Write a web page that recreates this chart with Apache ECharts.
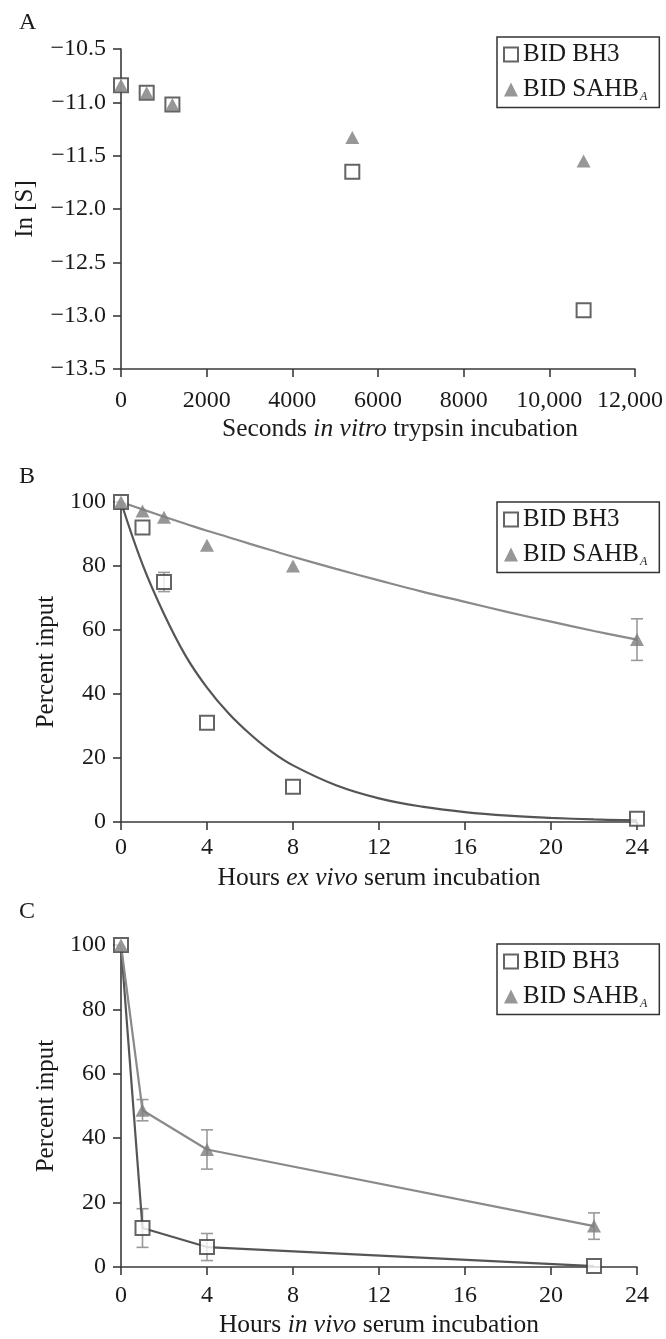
<!DOCTYPE html>
<html>
<head>
<meta charset="utf-8">
<script src="https://cdn.jsdelivr.net/npm/echarts@6/dist/echarts.min.js"></script>
<style>
html,body{margin:0;padding:0;background:#fff;}
#c{width:666px;height:1339px;}
</style>
</head>
<body>
<div id="c"></div>
<script>
// ---- Panel A data ----
const aTime = [0, 600, 1200, 5400, 10800];
const aBh3 = [-10.84, -10.91, -11.02, -11.65, -12.95];
const aSahb = [-10.84, -10.91, -11.02, -11.33, -11.55];
const aXTicks = ['0', '2000', '4000', '6000', '8000', '10,000', '12,000'];

// ---- Panel B data ----
const bTime = [0, 1, 2, 4, 8, 24];
const bBh3 = [100, 92, 75, 31, 11, 1];
const bBh3Err = [0, 0, 3, 0, 0, 0];
const bSahb = [100, 97.2, 95.2, 86.5, 80, 57];
const bSahbErr = [0, 0, 0, 0, 0, 6.5];
const bFitTime = [0, 1, 2, 3, 4, 5, 6, 7, 8, 10, 12, 14, 16, 18, 20, 22, 24];
const bBh3Fit = [100, 80.5, 65, 52, 42, 34, 27.5, 22, 17.7, 11.5, 7.4, 4.8, 3.1, 2.0, 1.3, 0.8, 0.5];
const bSahbFit = [100, 97.7, 95.4, 93.2, 91, 89, 86.9, 84.9, 82.9, 79.1, 75.5, 72, 68.8, 65.6, 62.6, 59.7, 57];

// ---- Panel C data ----
const cTime = [0, 1, 4, 22];
const cBh3 = [100, 12.1, 6.2, 0.3];
const cBh3Err = [0, 6, 4.2, 0];
const cSahb = [100, 48.7, 36.5, 12.7];
const cSahbErr = [0, 3.3, 6.1, 4.1];

const seriesNames = ['BID BH3', 'BID SAHB'];
const FONT = '"Liberation Serif", "Times New Roman", serif';
const AX = '#3a3a3a';
const SQ = '#3d3d3d';
const TRI = '#7d7d7d';
const ERR = '#9a9a9a';
const TXT = '#1a1a1a';

function pairs(xs, ys) { return xs.map((x, i) => [x, ys[i]]); }
function errData(xs, ys, es) {
  const out = [];
  xs.forEach((x, i) => { if (es[i] > 0) out.push([x, ys[i] - es[i], ys[i] + es[i]]); });
  return out;
}
function errSeries(idx, xs, ys, es) {
  return {
    type: 'custom', xAxisIndex: idx, yAxisIndex: idx, z: 1, silent: true,
    encode: { x: 0, y: [1, 2] },
    data: errData(xs, ys, es),
    renderItem: function (params, api) {
      const x = api.value(0);
      const p1 = api.coord([x, api.value(1)]);
      const p2 = api.coord([x, api.value(2)]);
      const w = 6;
      const st = { stroke: ERR, lineWidth: 1.6 };
      return {
        type: 'group', children: [
          { type: 'line', shape: { x1: p1[0], y1: p1[1], x2: p2[0], y2: p2[1] }, style: st },
          { type: 'line', shape: { x1: p1[0] - w, y1: p1[1], x2: p1[0] + w, y2: p1[1] }, style: st },
          { type: 'line', shape: { x1: p2[0] - w, y1: p2[1], x2: p2[0] + w, y2: p2[1] }, style: st }
        ]
      };
    }
  };
}
function sqSeries(idx, xs, ys) {
  return {
    name: seriesNames[0], type: 'scatter', xAxisIndex: idx, yAxisIndex: idx, z: 3,
    symbol: 'rect', symbolSize: 14,
    itemStyle: { color: '#fff', borderColor: SQ, borderWidth: 2 },
    data: pairs(xs, ys)
  };
}
function triSeries(idx, xs, ys) {
  return {
    name: seriesNames[1], type: 'scatter', xAxisIndex: idx, yAxisIndex: idx, z: 4,
    symbol: 'triangle', symbolSize: [14, 13],
    itemStyle: { color: TRI, borderWidth: 0 },
    data: pairs(xs, ys)
  };
}
function lineSeries(idx, xs, ys, color, smooth) {
  return {
    type: 'line', xAxisIndex: idx, yAxisIndex: idx, z: 2, silent: true,
    showSymbol: false, symbol: 'none', smooth: smooth,
    lineStyle: { color: color, width: 2.2 },
    data: pairs(xs, ys)
  };
}
function legend(top) {
  return {
    left: 497, top: top, orient: 'vertical',
    itemWidth: 14, itemHeight: 14, itemGap: 10,
    padding: [5, 12, 5, 6],
    borderColor: '#333', borderWidth: 1.5,
    data: seriesNames,
    formatter: n => n === 'BID SAHB' ? '{a|BID SAHB}{s|A}' : '{a|' + n + '}',
    textStyle: {
      rich: {
        a: { fontFamily: FONT, fontSize: 25, color: TXT, lineHeight: 26 },
        s: { fontFamily: FONT, fontSize: 12, fontStyle: 'italic', color: TXT, lineHeight: 26, verticalAlign: 'bottom', padding: [0, 0, 0, 1] }
      }
    }
  };
}
const axLine = { show: true, lineStyle: { color: AX, width: 1.6 } };
const axTick = { show: true, length: 8, lineStyle: { color: AX, width: 1.6 } };
const nameRich = {
  r: { fontFamily: FONT, fontSize: 25.5, color: TXT },
  i: { fontFamily: FONT, fontSize: 25.5, color: TXT, fontStyle: 'italic' }
};
function xAxis(idx, min, max, interval, margin, name, nameGap, fmt, namePad) {
  return {
    type: 'value', gridIndex: idx, min: min, max: max, interval: interval,
    axisLine: axLine, axisTick: axTick, splitLine: { show: false },
    axisLabel: { margin: margin, fontFamily: FONT, fontSize: 24, color: TXT, showMinLabel: true, showMaxLabel: true, formatter: fmt,
      rich: { last: { fontFamily: FONT, fontSize: 24, color: TXT, padding: [0, 10, 0, 0] } } },
    name: name, nameLocation: 'middle', nameGap: nameGap,
    nameTextStyle: { fontFamily: FONT, fontSize: 25.5, color: TXT, rich: nameRich, padding: namePad || 0 }
  };
}
function yAxis(idx, min, max, interval, name, nameGap, fmt) {
  return {
    type: 'value', gridIndex: idx, min: min, max: max, interval: interval,
    axisLine: axLine, axisTick: axTick, splitLine: { show: false },
    axisLabel: { margin: 15, fontFamily: FONT, fontSize: 24, color: TXT, showMinLabel: true, showMaxLabel: true, formatter: fmt },
    name: name, nameLocation: 'middle', nameGap: nameGap, nameRotate: 90,
    nameTextStyle: { fontFamily: FONT, fontSize: 25, color: TXT }
  };
}

const fmtA = v => (v < 0 ? '\u2212' : '') + Math.abs(v).toFixed(1);
const fmtAX = (v) => {
  const i = Math.round(v / 2000);
  const s = aXTicks[i];
  return i === aXTicks.length - 1 ? '{last|' + s + '}' : s;
};

const chart = echarts.init(document.getElementById('c'), null, { renderer: 'canvas' });
chart.setOption({
  backgroundColor: '#fff',
  animation: false,
  grid: [
    { left: 121, width: 516, top: 49, height: 320 },
    { left: 121, width: 516, top: 502, height: 320 },
    { left: 121, width: 516, top: 945, height: 322 }
  ],
  xAxis: [
    xAxis(0, 0, 12000, 2000, 20, '{r|Seconds }{i|in vitro}{r| trypsin incubation}', 47, fmtAX, [0, 0, 0, 44]),
    xAxis(1, 0, 24, 4, 14, '{r|Hours }{i|ex vivo}{r| serum incubation}', 43),
    xAxis(2, 0, 24, 4, 17, '{r|Hours }{i|in vivo}{r| serum incubation}', 45)
  ],
  yAxis: [
    yAxis(0, -13.5, -10.5, 0.5, 'In [S]', 83, fmtA),
    yAxis(1, 0, 100, 20, 'Percent input', 58),
    yAxis(2, 0, 100, 20, 'Percent input', 58)
  ],
  legend: [legend(37), legend(502), legend(944)],
  graphic: [
    { type: 'text', left: 19, top: 11, style: { text: 'A', font: '24px ' + FONT, fill: TXT } },
    { type: 'text', left: 19, top: 465, style: { text: 'B', font: '24px ' + FONT, fill: TXT } },
    { type: 'text', left: 19, top: 900, style: { text: 'C', font: '24px ' + FONT, fill: TXT } }
  ],
  series: [
    sqSeries(0, aTime, aBh3),
    triSeries(0, aTime, aSahb),

    lineSeries(1, bFitTime, bBh3Fit, '#555', 0.4),
    lineSeries(1, bFitTime, bSahbFit, '#8a8a8a', 0.4),
    errSeries(1, bTime, bBh3, bBh3Err),
    errSeries(1, bTime, bSahb, bSahbErr),
    sqSeries(1, bTime, bBh3),
    triSeries(1, bTime, bSahb),

    lineSeries(2, cTime, cBh3, '#555', false),
    lineSeries(2, cTime, cSahb, '#8a8a8a', false),
    errSeries(2, cTime, cBh3, cBh3Err),
    errSeries(2, cTime, cSahb, cSahbErr),
    sqSeries(2, cTime, cBh3),
    triSeries(2, cTime, cSahb)
  ]
});
</script>
</body>
</html>
